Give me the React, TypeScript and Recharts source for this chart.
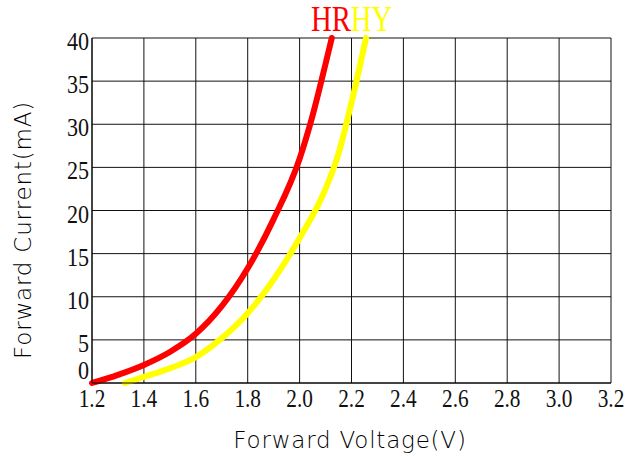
import { CartesianGrid, Line, LineChart, XAxis, YAxis } from "recharts";

const VOLT_TICKS = [1.2, 1.4, 1.6, 1.8, 2.0, 2.2, 2.4, 2.6, 2.8, 3.0, 3.2];
const CURRENT_TICKS = [0, 5, 10, 15, 20, 25, 30, 35, 40];

const HR_VOLTS = [1.2, 1.3, 1.4, 1.5, 1.6, 1.7, 1.8, 1.9, 2.0, 2.05, 2.1, 2.124];
const HR_CURRENT = [0, 0.95, 2.1, 3.6, 5.7, 8.9, 13.3, 19.0, 26.0, 31.0, 37.0, 40];

const HY_VOLTS = [1.327, 1.4, 1.5, 1.6, 1.7, 1.8, 1.9, 2.0, 2.1, 2.15, 2.2, 2.256];
const HY_CURRENT = [0, 0.7, 1.7, 3.0, 5.2, 8.1, 12.0, 16.8, 22.5, 26.6, 32.5, 40];

const SERIES = [
  { name: "HR", color: "#ff0000", volts: HR_VOLTS, current: HR_CURRENT },
  { name: "HY", color: "#ffff00", volts: HY_VOLTS, current: HY_CURRENT },
];

const TICK_FONT = "'Liberation Serif', 'Times New Roman', serif";
const TITLE_FONT = "'DejaVu Sans', sans-serif";

function XTick(props: any) {
  const { x, y, payload } = props;
  return (
    <g transform={`translate(${x},${y})`}>
      <text
        transform="scale(0.82,1)"
        textAnchor="middle"
        dy={18}
        fontFamily={TICK_FONT}
        fontSize={26}
        fill="#111"
      >
        {Number(payload.value).toFixed(1)}
      </text>
    </g>
  );
}

function YTick(props: any) {
  const { x, y, payload } = props;
  // the 0 label sits above the axis so it clears the 1.2 label
  const dy = payload.value === 0 ? -4 : 12;
  return (
    <g transform={`translate(${x},${y})`}>
      <text
        transform="scale(0.85,1)"
        textAnchor="end"
        dy={dy}
        fontFamily={TICK_FONT}
        fontSize={26}
        fill="#111"
      >
        {payload.value}
      </text>
    </g>
  );
}

export default function App() {
  const lines = SERIES.map((s) => ({
    ...s,
    data: s.volts.map((v, i) => ({ v, i: s.current[i] })),
  }));

  return (
    <div style={{ position: "absolute", left: 0, top: 0, width: 628, height: 456, background: "#fff" }}>
      <LineChart width={628} height={456} margin={{ top: 38, right: 17, bottom: 0, left: 0 }}>
        <CartesianGrid stroke="#111" strokeWidth={1} />
        <XAxis
          type="number"
          dataKey="v"
          domain={[1.2, 3.2]}
          ticks={VOLT_TICKS}
          interval={0}
          height={73}
          tickSize={0}
          tickMargin={6}
          axisLine={{ stroke: "#000" }}
          tick={<XTick />}
          label={{
            content: () => (
              <text
                x={350}
                y={448}
                textAnchor="middle"
                fontFamily={TITLE_FONT}
                fontWeight={200}
                fontSize={23}
                letterSpacing={0.8}
                fill="#000"
              >
                Forward Voltage(V)
              </text>
            ),
          }}
        />
        <YAxis
          type="number"
          dataKey="i"
          domain={[0, 40]}
          ticks={CURRENT_TICKS}
          interval={0}
          width={92}
          tickSize={0}
          tickMargin={3}
          axisLine={{ stroke: "#000" }}
          tick={<YTick />}
          label={{
            content: () => (
              <text
                x={31}
                y={230}
                transform="rotate(-90 31 230)"
                textAnchor="middle"
                fontFamily={TITLE_FONT}
                fontWeight={200}
                fontSize={23}
                letterSpacing={0.8}
                fill="#000"
              >
                Forward Current(mA)
              </text>
            ),
          }}
        />
        {lines.map((s) => (
          <Line
            key={s.name}
            data={s.data}
            dataKey="i"
            type="monotone"
            stroke={s.color}
            strokeWidth={6}
            strokeLinecap="round"
            dot={false}
            isAnimationActive={false}
          />
        ))}
      </LineChart>
      <div
        style={{
          position: "absolute",
          left: 311,
          top: 0,
          fontFamily: TICK_FONT,
          fontSize: 35,
          lineHeight: "normal",
          whiteSpace: "nowrap",
          transform: "scaleX(0.82)",
          transformOrigin: "left top",
        }}
      >
        {SERIES.map((s) => (
          <span key={s.name} style={{ color: s.color }}>
            {s.name}
          </span>
        ))}
      </div>
    </div>
  );
}
